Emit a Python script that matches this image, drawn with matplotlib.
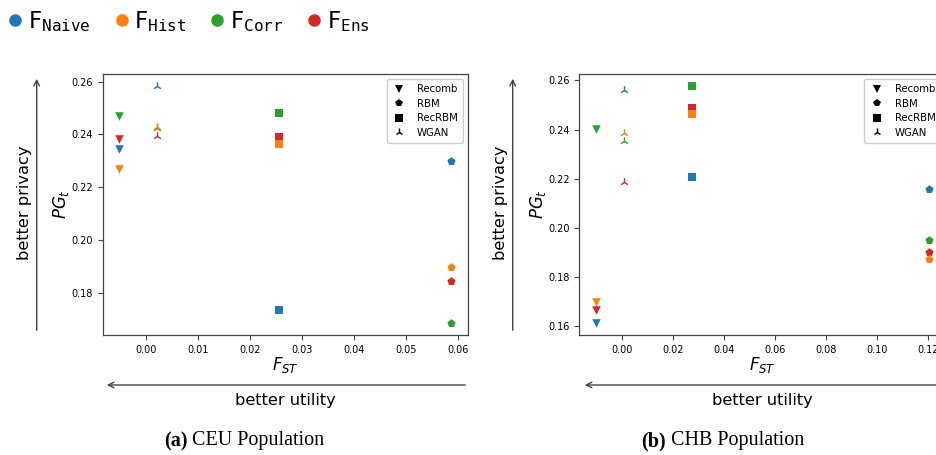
import matplotlib
matplotlib.use("Agg")
import matplotlib.pyplot as plt
from matplotlib.lines import Line2D
from matplotlib.patches import FancyArrowPatch

# Generative methods (one marker each) and the four attack models (one colour each)
methods = ["Recomb", "RBM", "RecRBM", "WGAN"]
method_markers = ["v", "p", "s", "2"]
models = ["Naive", "Hist", "Corr", "Ens"]
model_colors = ["#1f77b4", "#ff7f0e", "#2ca02c", "#d62728"]

# CEU population: F_ST per method, PG_t per model (ordered like `methods`)
ceu_fst = [-0.0052, 0.0587, 0.0256, 0.0020]
ceu_naive = [0.2346, 0.2300, 0.1734, 0.2584]
ceu_hist = [0.2270, 0.1898, 0.2362, 0.2430]
ceu_corr = [0.2468, 0.1685, 0.2483, 0.2424]
ceu_ens = [0.2383, 0.1845, 0.2389, 0.2393]

# CHB population
chb_fst = [-0.0101, 0.1204, 0.0275, 0.0008]
chb_naive = [0.1612, 0.2157, 0.2208, 0.2562]
chb_hist = [0.1700, 0.1875, 0.2465, 0.2388]
chb_corr = [0.2401, 0.1951, 0.2578, 0.2354]
chb_ens = [0.1664, 0.1901, 0.2489, 0.2188]

ceu_x_ticks = [0.00, 0.01, 0.02, 0.03, 0.04, 0.05, 0.06]
ceu_y_ticks = [0.18, 0.20, 0.22, 0.24, 0.26]
chb_x_ticks = [0.00, 0.02, 0.04, 0.06, 0.08, 0.10, 0.12]
chb_y_ticks = [0.16, 0.18, 0.20, 0.22, 0.24, 0.26]

W, H = 936, 455
fig = plt.figure(figsize=(W / 100, H / 100), dpi=100)


def px(x0, y0, x1, y1):
    """Pixel box (top-left origin) to figure-fraction rect."""
    return [x0 / W, 1 - y1 / H, (x1 - x0) / W, (y1 - y0) / H]


ax_ceu = fig.add_axes(px(102.7, 74, 468, 335))
ax_chb = fig.add_axes(px(579.3, 74, 945.9, 335))

# drawing order keeps orange on top where points overlap
draw_order = [0, 2, 3, 1]


def panel(ax, fst, series, xticks, yticks):
    for k in draw_order:
        vals = series[k]
        for i, m in enumerate(method_markers):
            kw = dict(s=38, marker=m, color=model_colors[k], zorder=3)
            kw["linewidths"] = 1.0 if m == "2" else 0
            ax.scatter([fst[i]], [vals[i]], **kw)
    ax.set_xticks(xticks)
    ax.set_xticklabels([f"{t:.2f}" for t in xticks])
    ax.set_yticks(yticks)
    ax.set_yticklabels([f"{t:.2f}" for t in yticks])
    ax.tick_params(labelsize=7, length=3.5, width=0.8, color="#444444")
    for sp in ax.spines.values():
        sp.set_color("#444444")
        sp.set_linewidth(0.9)
    ax.set_xlabel(r"$F_{ST}$", fontsize=12, labelpad=0)
    ax.set_ylabel(r"$PG_t$", fontsize=12, labelpad=0)
    handles = [Line2D([], [], linestyle="none", marker=m, color="black",
                      markersize=6, markeredgewidth=1.0 if m == "2" else 0)
               for m in method_markers]
    ax.legend(handles, methods, loc="upper right", fontsize=7.3,
              handlelength=1.5, borderpad=0.5, labelspacing=0.45,
              handletextpad=1.0, framealpha=1.0, edgecolor="#cccccc")


panel(ax_ceu, ceu_fst, [ceu_naive, ceu_hist, ceu_corr, ceu_ens], ceu_x_ticks, ceu_y_ticks)
panel(ax_chb, chb_fst, [chb_naive, chb_hist, chb_corr, chb_ens], chb_x_ticks, chb_y_ticks)

# figure-level legend for the attack models
model_handles = [Line2D([], [], linestyle="none", marker="o", color=c, markersize=8)
                 for c in model_colors]
model_labels = [r"F$_{\mathtt{%s}}$" % m for m in models]
fig.legend(model_handles, model_labels, loc="upper left", bbox_to_anchor=(0.0005, 1.0),
           ncol=4, frameon=False, fontsize=16.5, handlelength=0.5,
           handletextpad=0.3, columnspacing=1.1, borderpad=0.4, borderaxespad=0)


def arrow(x0, y0, x1, y1):
    a = FancyArrowPatch((x0 / W, 1 - y0 / H), (x1 / W, 1 - y1 / H),
                        transform=fig.transFigure, arrowstyle="->,head_length=4,head_width=2",
                        mutation_scale=1, color="#444444", linewidth=1.0)
    fig.add_artist(a)


# "better privacy" (upwards) and "better utility" (leftwards) guides
arrow(36.7, 333, 36.7, 76)
arrow(512.7, 333, 512.7, 76)
arrow(468, 385, 104, 385)
arrow(940, 385, 582, 385)

fig.text(25 / W, 1 - 203 / H, "better privacy", rotation=90, ha="center", va="center", fontsize=11.7)
fig.text(500 / W, 1 - 203 / H, "better privacy", rotation=90, ha="center", va="center", fontsize=11.7)
fig.text(285.5 / W, 1 - 400 / H, "better utility", ha="center", va="center", fontsize=11.7)
fig.text(762.5 / W, 1 - 400 / H, "better utility", ha="center", va="center", fontsize=11.7)

# sub-figure captions: bold tag followed by regular text, centred as a pair
captions = [("(a)", " CEU Population", 244), ("(b)", " CHB Population", 723)]
pairs = []
for tag, rest, cx in captions:
    t1 = fig.text(0, 1 - 441 / H, tag, fontfamily="Liberation Serif", fontweight="bold",
                  fontsize=14.5, va="center", ha="left")
    t2 = fig.text(0, 1 - 441 / H, rest, fontfamily="Liberation Serif",
                  fontsize=14.5, va="center", ha="left")
    pairs.append((t1, t2, cx))

fig.canvas.draw()
r = fig.canvas.get_renderer()
for t1, t2, cx in pairs:
    w1 = t1.get_window_extent(r).width
    w2 = t2.get_window_extent(r).width
    left = cx - (w1 + w2) / 2
    t1.set_x(left / W)
    t2.set_x((left + w1) / W)

fig.savefig("out.png", dpi=100)
